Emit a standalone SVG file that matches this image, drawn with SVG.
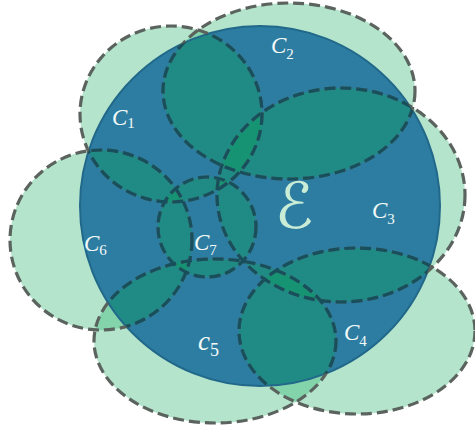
<svg xmlns="http://www.w3.org/2000/svg" xmlns:xlink="http://www.w3.org/1999/xlink" width="475" height="431" viewBox="0 0 475 431">
<style>
.out{fill:#28b46c;fill-opacity:.35}
.in{fill:#0ba157;fill-opacity:.4}
.edge{fill:none;stroke:#5b635f;stroke-width:3.2;stroke-dasharray:11 5}
.edgein{fill:none;stroke:#17505c;stroke-width:3.2;stroke-dasharray:11 5}
.lbl{font-family:"Liberation Serif",serif;font-style:italic;fill:#f3faf7;font-size:23px}
.sub{font-style:normal;font-size:15px}
</style>
<defs>
<ellipse id="s1" cx="171" cy="114" rx="91" ry="88"/>
<ellipse id="s2" cx="289" cy="91" rx="126" ry="88"/>
<ellipse id="s3" cx="341" cy="195" rx="124" ry="107"/>
<ellipse id="s4" cx="357" cy="331" rx="118" ry="83"/>
<ellipse id="s5" cx="215" cy="341" rx="121" ry="82"/>
<ellipse id="s6" cx="101" cy="240" rx="91" ry="90"/>
<ellipse id="s7" cx="207" cy="227" rx="49" ry="50"/>
<clipPath id="inE"><circle cx="260" cy="206" r="180"/></clipPath>
</defs>
<rect width="475" height="431" fill="#ffffff"/>
<g id="outer-fills">
<use xlink:href="#s1" class="out"/><use xlink:href="#s2" class="out"/><use xlink:href="#s3" class="out"/><use xlink:href="#s4" class="out"/><use xlink:href="#s5" class="out"/><use xlink:href="#s6" class="out"/><use xlink:href="#s7" class="out"/>
</g>
<g id="E">
<circle cx="260" cy="206" r="180" fill="#4567d4"/>
</g>
<g id="inner-fills" clip-path="url(#inE)">
<use xlink:href="#s1" class="in"/><use xlink:href="#s2" class="in"/><use xlink:href="#s3" class="in"/><use xlink:href="#s4" class="in"/><use xlink:href="#s5" class="in"/><use xlink:href="#s6" class="in"/><use xlink:href="#s7" class="in"/>
</g>
<circle cx="260" cy="206" r="180" fill="none" stroke="#22688a" stroke-width="2"/>
<g id="outlines">
<use xlink:href="#s1" class="edge"/><use xlink:href="#s2" class="edge"/><use xlink:href="#s3" class="edge"/><use xlink:href="#s4" class="edge"/><use xlink:href="#s5" class="edge"/><use xlink:href="#s6" class="edge"/><use xlink:href="#s7" class="edge"/>
<g clip-path="url(#inE)">
<use xlink:href="#s1" class="edgein"/><use xlink:href="#s2" class="edgein"/><use xlink:href="#s3" class="edgein"/><use xlink:href="#s4" class="edgein"/><use xlink:href="#s5" class="edgein"/><use xlink:href="#s6" class="edgein"/><use xlink:href="#s7" class="edgein"/>
</g>
</g>
<g id="labels">
<text x="294" y="228" font-family="DejaVu Sans, sans-serif" font-size="64" fill="#c9ecd6" text-anchor="middle">ℰ</text>
<g id="C1"><text class="lbl" x="112" y="125">C<tspan class="sub" dy="3">1</tspan></text></g>
<g id="C2"><text class="lbl" x="271" y="53">C<tspan class="sub" dy="6">2</tspan></text></g>
<g id="C3"><text class="lbl" x="372" y="218">C<tspan class="sub" dy="6">3</tspan></text></g>
<g id="C4"><text class="lbl" x="344" y="340">C<tspan class="sub" dy="6">4</tspan></text></g>
<g id="C5"><text class="lbl" x="198" y="350" style="font-size:27px">c<tspan class="sub" dy="6" style="font-size:18px">5</tspan></text></g>
<g id="C6"><text class="lbl" x="84" y="251">C<tspan class="sub" dy="4">6</tspan></text></g>
<g id="C7"><text class="lbl" x="194" y="250">C<tspan class="sub" dy="5">7</tspan></text></g>
</g>
</svg>
